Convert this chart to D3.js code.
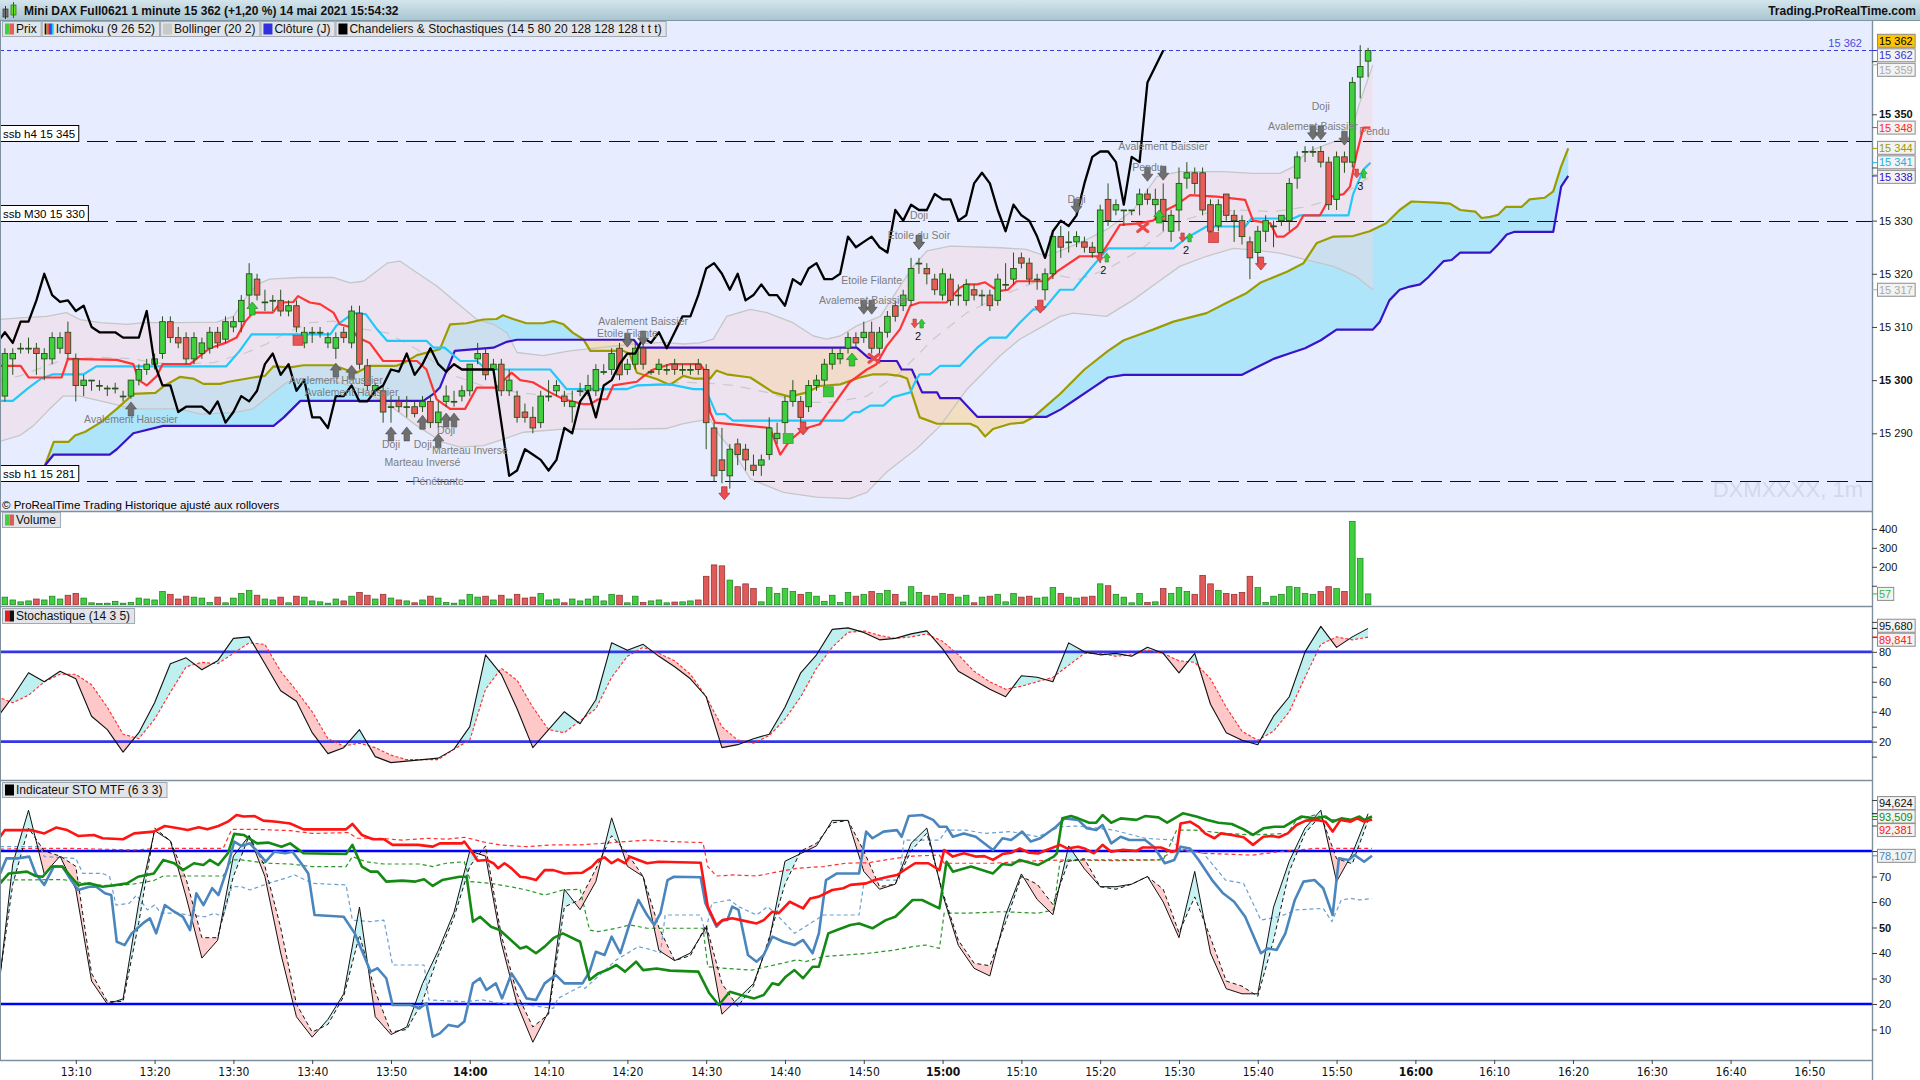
<!DOCTYPE html>
<html>
<head>
<meta charset="utf-8">
<title>Mini DAX Full0621 1 minute</title>
<script src="https://cdn.jsdelivr.net/npm/d3@7"></script>
<style>
  body { margin: 0; background: #ffffff; overflow: hidden; }
  svg text { font-family: "Liberation Sans", Arial, sans-serif; }
  .narrow text { font-family: "Liberation Sans Narrow", "DejaVu Sans Condensed", sans-serif; }
</style>
</head>
<body>
<script>
(function(){

  //pseudo-global data: one candle per minute, first one at 13:01 (minutes after 13:00)
  var firstCandle = 1;
  var candleOpen = [15297,15304,15306,15306,15306,15304,15304,15306,15309,15304, 15299,15300,15299,15298.5,15298.5,15297,15297,15300,15302,15303,
    15305,15311,15308,15308,15304,15305,15306,15309,15307.7,15310, 15311,15316,15319,15314.7,15315,15315,15313,15314,15307,15309,
    15309,15307,15306,15309,15307,15312.6,15302.7,15298,15298,15295, 15296,15295,15295,15295,15296,15292,15296,15296,15297,15298,
    15304,15305,15302,15303,15298,15297,15294,15293,15292,15297, 15298,15297,15295,15298,15298,15298,15301.6,15302,15306,15302,
    15303,15306,15301.6,15302,15302,15303,15302,15302,15303,15302, 15291,15285,15282,15288,15287,15284,15284,15286,15289,15292,
    15296,15296,15295,15299,15300,15303,15304,15306,15308,15308, 15309,15306,15309,15314,15314,15315,15322,15321,15319,15316,
    15319,15316,15315,15317,15316,15316,15315,15318,15319,15323, 15322,15319,15317,15320,15327,15326,15326,15326,15325,15324,
    15334,15332,15332,15332,15333,15335,15333,15334,15328,15332, 15338,15339,15339,15333,15329,15335,15331,15330,15326,15324,
    15328,15329,15330,15330,15338,15343,15343,15343,15341,15334, 15342,15341,15357,15360];
  var candleHigh = [15306,15306,15307,15308,15307,15306,15309,15309,15311,15305, 15301,15300,15300,15299,15299.5,15298,15300,15303,15304,15305,
    15312,15312,15310,15309,15309,15308,15310,15310,15312,15312, 15316,15322,15320,15317,15316,15317,15315,15315,15310,15310,
    15310,15309,15309,15310,15314,15314,15304,15299.5,15299,15297, 15297,15297,15296,15297,15297,15296,15299,15298,15299,15303,
    15307,15306,15304,15304,15302,15298,15295.6,15295,15298,15300, 15300,15298,15298,15299.5,15301,15303,15303,15306,15307,15304,
    15307,15307,15302,15304,15303,15304,15303,15303,15304,15303, 15292,15291,15288,15289,15288,15286,15286,15293,15292,15297,
    15300,15297,15300,15301,15304,15306,15306,15309,15309,15311, 15311,15310,15313,15315,15317,15323,15323,15322,15320,15321,
    15320,15318,15319,15318,15317,15317,15320,15322,15324,15324, 15323,15320,15321,15328,15329,15328,15328,15327,15326,15333,
    15337,15334,15332,15332,15336,15336,15336,15337,15332,15340, 15341,15340,15340,15334,15334,15335,15332,15331,15327,15329,
    15331,15330,15331,15338,15343,15344,15344,15344,15342,15343, 15343,15357,15363,15362.5];
  var candleLow = [15296,15301,15305,15305,15301,15300,15303,15305,15304,15296, 15297,15298,15298,15297,15297.5,15296,15296.5,15299,15301,15302,
    15304,15307,15306,15303,15303,15304,15305,15306,15307,15309, 15309,15314,15315,15313,15313,15312,15312,15309,15306,15307,
    15308,15306,15304,15307,15306,15302,15298,15297,15292,15292, 15294,15293,15293,15294,15291,15291,15295,15295,15296,15297,
    15303,15300,15301,15297,15297,15292,15292,15290,15291,15296, 15297,15295,15292,15297,15297,15297,15301,15301,15300,15301,
    15302,15302,15301,15301,15301,15301,15301,15301,15301,15287, 15281,15280.6,15279.6,15284,15283,15282,15282,15285,15288,15290,
    15295,15292,15294,15298,15299,15302,15303,15305,15306,15307, 15305,15305,15308,15311,15313,15314,15320,15318,15316,15315,
    15314,15314,15314,15315,15314,15313,15314,15317,15318,15321, 15318,15317,15315,15319,15323,15324,15325,15324,15323,15322,
    15329,15331,15329,15331,15331,15333,15330,15328,15326,15328, 15336,15335,15331,15326,15328,15330,15326,15325.5,15319,15322,
    15326,15325,15329,15328,15336,15341,15342,15340,15332,15332, 15339,15340,15353,15357];
  var candleClose = [15305,15305,15306,15306,15305,15305,15308,15308,15305,15299, 15300,15300,15299,15298.5,15298.5,15297,15300,15302,15303,15304,
    15311,15308,15307,15304,15308,15307,15309,15307,15311,15311, 15315,15320,15316,15314.7,15315,15313,15314,15310,15309,15309,
    15309,15308,15308,15308,15313,15303,15299,15299,15294,15295, 15295,15295,15293.7,15296,15292,15294,15297,15296,15298,15303,
    15305,15301,15303,15298,15300,15293,15293,15291,15297,15297, 15299,15296,15296,15298,15299,15302,15301.6,15305,15301,15303,
    15306,15303,15301.6,15303,15302,15302,15302,15302,15302,15292, 15282,15283,15287,15286,15285,15283,15285,15291,15290,15296,
    15298,15293,15299,15300,15303,15305,15305,15308,15307,15309, 15306,15309,15312,15312,15316,15321,15322,15320,15317,15320,
    15315,15316,15318,15316,15316,15314,15319,15318,15321,15322, 15319,15319,15320,15327,15325,15326,15327,15325,15324,15332,
    15330,15333,15332,15332,15335,15334,15334,15330,15331,15337, 15339,15337,15332,15328,15333,15331,15330,15327,15323,15328,
    15330,15329,15331,15337,15342,15343,15343,15341,15333,15342, 15341,15356,15359,15362];
  var candleVolume = [40,25,15,20,30,25,45,30,50,60, 35,10,6,8,18,8,12,35,30,25, 70,55,30,45,40,35,12,40,10,35,
    60,75,50,30,25,40,10,45,40,20, 15,8,30,20,45,65,50,30,55,35, 25,20,10,25,45,35,12,8,25,55,
    40,45,25,50,30,55,35,40,60,25, 30,10,30,20,30,45,20,55,50,10, 45,12,20,25,10,14,15,20,25,150,
    210,205,130,95,110,85,15,90,60,85, 70,55,65,45,18,50,12,65,45,55, 70,60,75,55,14,95,65,50,45,60,
    55,40,50,10,40,45,55,15,60,40, 45,35,40,90,60,40,35,40,45,110, 100,55,40,10,60,12,15,85,60,90,
    70,55,155,110,75,60,55,65,150,90, 12,45,55,95,90,60,55,70,95,85, 70,440,245,57];

  //ichimoku (9 26 52) lines as [minute, price]
  var tenkan = [[0,15302.7],[3,15302.7],[4,15300.5],[8.2,15300.5],[9,15304],[15.2,15303.8],[17.3,15303],[18,15300],[19,15299],[20.3,15300.8],
    [21,15303],[24.5,15303],[25.8,15304.6],[27,15306],[29,15307],[30.4,15308],[31.5,15311],[32.5,15312.7],[35,15312.7],[36,15314.6],
    [37.6,15314.7],[38.2,15315.8],[39.7,15314.6],[41,15314.3],[42.7,15312.7],[43.5,15310.5],[44.8,15310],[45.8,15308],[47.3,15307],[49,15303.6],
    [53.3,15303.6],[54.5,15302],[55.8,15296.4],[57.5,15294.6],[59.4,15294.6],[60.9,15298.6],[63.4,15298.6],[65.3,15301.4],[66.4,15300],[68,15299.6],
    [70.2,15297.7],[71.9,15296.4],[74.4,15295.5],[75.3,15295.5],[76.3,15296.4],[77.4,15296.4],[78.2,15299],[81.2,15299.7],[82.1,15300.8],[83.3,15302],
    [85.4,15303],[89.2,15303],[89.7,15302],[90.5,15294],[91.1,15292],[98.1,15291],[99.4,15286],[100.6,15288.6],[102.3,15290.8],[104.4,15291.7],
    [106,15295],[108.2,15299.6],[110.4,15302],[111.6,15303],[112.9,15306.4],[114.6,15309.6],[115.9,15314],[117.1,15314.6],[120.5,15314.6],[122.2,15317.4],
    [123,15318],[124.4,15318],[125.4,15318.4],[126.4,15317.4],[127.3,15316.8],[128.3,15317],[129.4,15318.6],[133.2,15318.6],[134.5,15320.4],[137.4,15323.3],
    [140,15323.3],[142.5,15329.2],[145,15329.5],[146.7,15330],[148.4,15332],[149.7,15333],[151.4,15334.8],[154.8,15334.5],[158.4,15333.9],[159.4,15330],
    [161.6,15329.5],[162.4,15327],[163.3,15327],[165,15328.9],[165.8,15331],[167.9,15331],[169.2,15334.5],[170.9,15335],[171.7,15336.4],[172.5,15342.3],
    [173.4,15347.5],[174.3,15347.5]];
  var kijun = [[0,15296.1],[2,15296.1],[3.8,15298.3],[5.5,15300.2],[7.1,15301.1],[11,15301.1],[12.6,15302.6],[29.1,15302.6],[30.8,15305.5],[32.3,15308.6],
    [42.3,15308.6],[43.1,15310.3],[45.2,15312.6],[46.8,15312.4],[48.2,15309.6],[49.5,15307.4],[54.5,15307.4],[55.4,15306.1],[56.8,15306.1],[58.8,15303.6],
    [60.9,15303.6],[62.1,15302],[70.2,15302],[72.3,15298.3],[79.9,15298.3],[81.2,15299],[85.4,15299.2],[88.4,15298.3],[89.5,15298.3],[90.1,15297.7],
    [91.3,15293.6],[92.4,15293.6],[93.4,15292.4],[107.4,15292.4],[108.7,15294],[109.5,15294],[110.8,15295.2],[112.5,15295.2],[113.7,15296.8],[115.9,15297.7],
    [116.7,15300.2],[117.1,15301.1],[118.4,15301.1],[119.7,15302.7],[122.2,15302.7],[124.4,15306.1],[126,15308],[128.1,15308],[129.8,15310.8],[131.5,15313.3],
    [132.8,15313.3],[134.9,15317],[136.6,15317],[138.7,15320.8],[141,15324.8],[149.3,15324.8],[150.9,15326.7],[153.5,15328.9],[158.4,15328.9],[159.2,15330.4],
    [164.5,15330.4],[165.4,15331],[171.5,15331],[172.1,15335],[173.4,15339.6],[174.3,15340.9]];
  var senkouA = [[6.1,15284],[7.2,15288.4],[9.1,15288.4],[9.9,15289.6],[11.2,15290.3],[13.1,15292],[15.2,15294.6],[17.3,15297.4],[20.1,15297.6],[21.3,15299],
    [23.2,15300.6],[24.9,15300.3],[26.2,15299.3],[28.3,15299.3],[29.4,15299.7],[32.5,15300.5],[34,15300.8],[35.1,15302.6],[37.2,15302.4],[38.9,15302.8],
    [42.7,15302.8],[44.4,15301.9],[45.5,15301.3],[47.3,15302.7],[50.7,15302.7],[51.6,15303.2],[53.3,15304.7],[56.2,15305.8],[57.5,15310.5],[59.6,15310.7],
    [61.7,15311.4],[63.4,15311.5],[64.2,15312.2],[65.5,15311.5],[67.2,15310.7],[69.3,15310.7],[70.6,15311.1],[71.9,15310.5],[73.1,15308.9],[74.4,15307.7],
    [75.3,15305.5],[79.5,15305.5],[80.3,15304.9],[81.2,15301.4],[83.7,15300.2],[85.4,15299.1],[87.1,15300.8],[88.4,15300.3],[90.5,15300.3],[91.3,15301.8],
    [92.6,15301.1],[95.6,15300.5],[98.5,15297.7],[100.6,15296.9],[102.8,15297.7],[104.4,15298.9],[107,15299.2],[109.5,15300.5],[111.2,15301.1],[113,15301.1],
    [114.6,15300.8],[115.5,15300.3],[117.1,15293],[119.3,15291.8],[123.5,15291.8],[124.4,15291.2],[125.4,15289.4],[126.4,15290.8],[128.6,15291.8],[130.2,15292],
    [131.5,15293],[133.2,15295.2],[134.9,15297.4],[138,15302],[141,15305.5],[143,15307.5],[145,15308.6],[146.7,15309.5],[149.3,15311],[153.5,15312.6],
    [156,15314.5],[158.6,15316.4],[160.3,15318.3],[163.7,15320.4],[165.8,15322],[167.5,15325.8],[169.6,15327],[172.1,15327.1],[174.2,15328],[176.3,15329.5],
    [178,15332],[179.5,15333.6],[182.7,15333.4],[184.4,15333.2],[185.7,15332],[187.6,15331.7],[188.4,15330.5],[189.5,15330.7],[190.5,15331.1],[191.5,15332.6],
    [193.5,15332.6],[194.5,15334],[196.4,15334.3],[197.5,15335.5],[198.5,15340.2],[199.4,15343.6]];
  var senkouB = [[6.1,15284],[7.2,15286],[14.3,15286],[15.2,15287],[17.3,15290],[21.1,15291.4],[35.1,15291.4],[36.4,15293],[38.5,15296.1],[54.1,15296.1],
    [55.4,15297.4],[56.2,15298.6],[58.1,15305.5],[58.8,15305.6],[63,15306.1],[64.7,15307.2],[66,15307.6],[80.8,15307.6],[81.6,15306.1],[109.1,15306.1],
    [110.6,15304.2],[112.1,15303.6],[114.2,15303.6],[114.8,15302],[116.1,15302],[117.4,15297.7],[119.3,15297.7],[119.7,15296.6],[122.2,15296.6],[124.4,15293.1],
    [133.2,15293.1],[135,15294.5],[137,15296.5],[139,15298.5],[141,15300.5],[143,15301],[158,15301],[160,15302.5],[162,15304],[164,15305],
    [166,15306],[168,15307.5],[170,15309.5],[174.6,15309.5],[175.5,15311],[176.7,15315],[178,15317],[179.3,15317.6],[180.6,15318],[181.6,15319.3],
    [183.6,15322.4],[184.6,15322.6],[185.7,15324],[189.5,15324],[190.5,15325.5],[191.6,15327.4],[192.6,15327.9],[197.5,15327.9],[198.5,15336.4],[199.4,15338.4]];

  //bollinger (20 2) bands as [minute, price]
  var bbUpper = [[0,15311.4],[2.9,15311.7],[6.3,15312],[8.8,15312.7],[10.5,15311.4],[13.1,15310.8],[16.5,15310.5],[18.6,15310.8],[23.2,15310.8],[27.9,15310.9],
    [30,15312],[31.7,15315.8],[33,15318],[34.6,15319],[38.4,15319.3],[42.7,15319.3],[44.8,15318.3],[46.5,15318.6],[49.5,15322],[51.1,15322.4],
    [53.3,15320.2],[55.8,15317.7],[58.3,15314.6],[60.9,15311.4],[63,15310.5],[64.7,15308.9],[66,15305.2],[69.3,15304.6],[72.7,15305.5],[76.5,15306.1],
    [80.8,15306.8],[84.5,15307.1],[87.1,15306.8],[89.2,15307],[90.9,15307.7],[92.6,15312],[95.6,15313.3],[97.7,15312.7],[101,15310.8],[103.6,15308.3],
    [105.3,15307.7],[107,15308.3],[109.1,15310.2],[112.1,15312],[114.6,15317.7],[116.3,15321.4],[118,15324.3],[121,15325.2],[127.3,15324.9],[130.6,15324.6],
    [133.2,15323.3],[134.9,15324.3],[137.4,15325.8],[140.8,15328.3],[144.2,15332],[147.2,15338.3],[150.1,15339.2],[155.6,15339.2],[159.4,15338.9],[162.8,15338.9],
    [164.5,15340.1],[166.2,15342.9],[169.6,15344.8],[171.7,15345.8],[172.9,15352],[174.6,15359.3]];
  var bbMiddle = [[0,15299.9],[2.9,15300.8],[6.3,15302.7],[8.8,15304],[13.1,15304.3],[17.3,15304],[19.8,15303.3],[23.2,15303],[27.5,15303.3],[31.7,15305.2],
    [34.2,15306.8],[36.3,15308.6],[39.7,15310.8],[42.7,15311.1],[45.2,15309.9],[49.5,15308.9],[53.3,15305.8],[57.5,15301.1],[61.7,15298.9],[66,15297.7],
    [70.2,15297],[74.4,15297.7],[78.6,15298.3],[82.9,15299.2],[87.1,15299.6],[90.5,15299.4],[93.5,15299],[97.7,15297.7],[101.9,15295.8],[106.1,15295.8],
    [110.4,15297],[114.6,15301.4],[118.8,15307.7],[123.1,15312.7],[127.3,15315.8],[131.5,15318.3],[134.9,15319.6],[137.4,15319],[140.8,15320.8],[145.1,15324.5],
    [149.3,15329.5],[153.5,15331.4],[157.6,15332],[162,15331.7],[166.2,15332.6],[170.4,15334.5],[174.6,15338.6]];
  var bbLower = [[0,15288.3],[2.9,15289.6],[4.6,15291.4],[6.7,15294.6],[8.4,15297],[10.5,15297],[13.9,15295.8],[17.3,15294.6],[23.2,15294.6],[25.8,15293.6],
    [30,15293.9],[32.5,15294.6],[35.1,15297.7],[36.8,15299.6],[38.5,15300.2],[42.7,15299.9],[46.1,15298.3],[49.9,15295.2],[53.3,15291.4],[56.6,15288.3],
    [58.8,15287.4],[61.7,15287.7],[64.3,15288.9],[66.8,15290.2],[71.9,15290.8],[79.9,15290.8],[84.9,15290.9],[87.1,15291.8],[90.5,15292.7],[91.5,15290],
    [93.5,15286.4],[95.6,15281.4],[99.8,15278.9],[104,15278],[108.2,15277.7],[110.4,15278.9],[112.9,15282.7],[116.7,15287.1],[119.7,15291.4],[123.1,15298.3],
    [127.3,15304.6],[129.8,15307.7],[132.8,15310.2],[134.9,15312],[136.6,15312.6],[140.8,15312],[144.2,15315.1],[147.2,15318.3],[150.1,15321.4],[153.5,15323.3],
    [156.9,15324.8],[159.4,15324.5],[162.8,15323.9],[166.2,15322.6],[169.6,15321.4],[172.5,15319.5],[174.6,15317]];

  //support levels drawn as dashed lines
  var levelNames = ["ssb h4 15 345", "ssb M30 15 330", "ssb h1 15 281"];
  var levelValues = [15345, 15330, 15281];

  //stochastic (14 3 5), one reading every 2 minutes from 13:00
  var oscStep = 2;
  var stochK = [36,50,66,60,67,62,37,28,13,26, 46,72,76,68,74,89,90,72,54,47, 26,12,16,28,10,6,7,8,9,15,
    30,78,65,42,16,28,40,32,48,86, 81,85,77,70,62,50,16,18,22,25, 43,66,78,95,96,93,88,89,92,94,
    82,67,61,55,50,64,63,60,86,80, 78,79,77,83,79,66,79,45,26,21, 18,37,50,80,97,83,90,95.68];
  var stochD = [50,46,51,60,65,65,58,43,25,22, 35,53,70,73,72,79,86,85,67,54, 40,22,17,19,16,11,8,8,8,15,
    21,55,69,61,43,28,26,34,42,63, 77,83,79,74,65,50,30,21,19,24, 35,50,69,83,93,94,91,89,90,92,
    87,78,67,60,55,57,60,63,71,79, 79,77,78,81,79,74,73,62,43,27, 21,27,40,63,85,90,88,89.841];

  //STO MTF (6 3 3): fast lines on the same 2 minute grid
  var mtfK = [20,75,96,71,78,65,29,20,22,60, 88,84,62,38,45,78,86,70,40,15, 7,14,24,58,15,8,11,28,41,56,
    80,78,44,20,5,17,65,57,68,93, 74,70,41,37,40,50,16,22,28,45, 76,79,82,92,92,72,65,67,83,89,
    63,43,34,31,55,71,61,55,82,73, 66,66,67,70,60,46,72,40,26,24, 24,58,76,89,96,68,79,94.624];
  var mtfD = [23,67,89,80,78,74,32,21,21,52, 89,84,69,46,46,70,86,74,50,20, 9,12,23,47,25,9,10,21,39,54,
    74,82,47,24,11,16,58,61,73,86, 79,70,50,37,39,51,28,19,27,46, 67,80,83,91,92,80,66,67,80,87,
    64,45,36,35,52,70,67,59,76,77, 66,65,67,70,65,48,62,46,29,27, 23,45,72,87,94,77,75,92];

  //STO MTF higher time frames as [minute, value]
  var mtfRed = [[0.4,85.6],[1,88.2],[4.3,88.2],[6,86.9],[7.5,89.2],[8.9,88.2],[10.3,85.9],[12.3,86.3],[13.4,85],[16,84.6],
    [17.4,86.9],[19.9,87.6],[21.3,89.8],[23,88.9],[24.2,88.2],[25.6,89.3],[26.7,88.5],[28.1,89.8],[29.3,91.5],[30.4,94.1],
    [31.3,93.5],[32.7,93.7],[33.8,91.9],[35.5,91.5],[37.2,90.8],[38.9,88.5],[44.3,88.5],[45.1,90.6],[46.3,86.3],[47.7,84.6],
    [49.1,84.6],[50.2,82.4],[53.4,82.4],[55.3,81.7],[56.2,83],[59,83],[59.3,83.7],[60.1,80.4],[61,76.2],[62.1,76.5],
    [63,75.2],[63.6,73.2],[64.4,75.2],[65.3,73.2],[66.4,69.9],[67.2,69.6],[68.4,68.6],[69.5,72.5],[70.6,72.5],[72,71.2],
    [74.3,71.5],[75.5,73.9],[76.3,76.5],[77.1,77.5],[78,75.2],[78.8,76.7],[79.7,75.2],[80.3,77.8],[81.4,76.5],[82.5,75.2],
    [84,75.8],[89.3,75.4],[90.2,58.2],[91.3,51],[92.1,52.9],[93.3,53.6],[94.7,52.7],[96.4,51.6],[97.3,52.9],[98.4,56.2],
    [99.2,55.6],[100.6,60.1],[102.3,57.5],[103.2,61.4],[104.3,62.1],[106,64.7],[107.4,65.4],[108.3,66.7],[110.3,67.3],[111.4,68.6],
    [113.1,69.9],[114.2,70.6],[116.5,75.2],[118.2,75.2],[119.6,72.5],[120.2,80.4],[121.3,77.8],[122.7,79.1],[124.2,77.8],[125.3,78],
    [126.4,76.5],[127.6,78.8],[128.7,79.3],[129.8,81],[131,79.3],[132.1,79],[133.2,80.4],[134.9,82.4],[135.8,81],[137.2,81.7],
    [138,81],[139.2,79.1],[140.3,82.4],[141.4,79.7],[142.9,80.5],[144.6,80],[145.4,81.4],[147.7,81.4],[149.1,79.7],[149.7,80.1],
    [150.2,90.8],[151.4,91.5],[152.5,89.5],[153.3,86.9],[154.5,85],[155.3,86.9],[156.7,86.3],[158.2,85.4],[159.4,82.4],[160.7,85.6],
    [161.8,85.9],[162.7,85.4],[163.8,86.9],[164.9,90.2],[166.1,91.9],[167.5,92.2],[168.6,91.5],[169.5,87.6],[170.5,92.2],[171.8,91.5],
    [172.6,92.8],[173.5,91.5],[174.5,92.381]];
  var mtfRedSlow = [[0.4,80.7],[3.8,81],[9.7,81],[17.4,80.4],[20.2,81],[28.7,81],[29.8,88.5],[32.7,88.5],[37.2,88],[40,86.9],
    [44.6,87.2],[45.7,85],[48.5,85],[51.4,84.3],[54.8,85],[57,84.6],[59.3,85.4],[62.1,83.3],[63.8,82.4],[67.2,81.7],
    [70.6,82.4],[74,82.4],[76.9,83],[79.7,83.7],[82.5,84.3],[85.4,83.7],[89.6,83.3],[90.2,73.9],[91.3,70.2],[93.6,70.6],
    [96.4,70.2],[99.2,71.9],[101.5,73.2],[104.9,73.9],[107.7,75.2],[110.6,75.4],[114,77.1],[116.2,78],[119.6,78.4],[120.2,75.2],
    [126.4,75.2],[132.1,76.2],[136,76.5],[141.7,76.2],[147.4,76.5],[149.9,81],[153.1,79.1],[159.3,78.4],[162.7,79.7],[167.2,81],[174.5,81]];
  var mtfGreen = [[0.4,67.3],[1.5,71.2],[3.8,71.9],[4.9,70.2],[5.8,69.9],[6.9,73.9],[8.3,73.9],[9.4,69.9],[10.3,66.7],[11.7,67.3],
    [13.4,66],[15.1,66.7],[16.5,67.3],[17.9,69.9],[19.9,71.2],[21.1,76.5],[22.5,75.2],[23.6,72.5],[25,75.2],[26.2,74.5],
    [27,76.5],[28.1,74.5],[29.3,79.1],[30.1,86.7],[31.3,86.3],[33,83],[34.4,83.3],[36.1,81.7],[37.2,83],[38.9,79.1],
    [44.3,78.8],[45.1,82.4],[46.3,73.9],[47.4,71.9],[48.3,71.9],[49.4,68],[51.4,68.4],[53.1,68],[54.2,68.9],[55.3,66.3],
    [56.5,68.6],[58.7,69.9],[59.6,69.9],[60.4,52.3],[61.3,54.2],[62.7,50.3],[63.8,49],[66.4,41.8],[67.2,42.5],[68.4,39.9],
    [69.5,42.5],[70.6,45.8],[71.8,47.7],[74,44.4],[75.2,29.4],[76.3,32],[77.4,33.3],[78.6,35.3],[79.7,32.7],[81.1,36.6],
    [82,33.3],[83.7,33.9],[85.4,33.1],[89,32.7],[90.4,24.2],[91.6,19.6],[93,24.8],[94.4,23.5],[96.1,22.2],[97.3,23.5],
    [98.4,28.1],[99.2,27.5],[100.1,30.7],[101.2,33.3],[102.3,30.1],[103.5,34.6],[104.3,34.6],[105.5,47.7],[106.6,49],[108.3,51],
    [109.4,51.6],[111.1,49.7],[112.8,52.9],[114,54.2],[115.1,57.5],[116.2,60.8],[117.4,60.8],[119.6,57.5],[120.5,75.8],[121.3,71.9],
    [123.6,73.9],[126.4,71.2],[127.6,74.9],[128.7,74.5],[129.8,76.5],[132.1,74.5],[134.1,77.8],[134.5,79.1],[135.2,92.8],[136.3,93.7],
    [137.2,92.8],[138.6,91.1],[139.5,91.1],[140.3,94.1],[141.4,91.1],[142.6,92.8],[144.6,92.2],[145.7,93.7],[147.4,93.2],[148.5,91.1],
    [150.5,94.8],[152.2,93.5],[153.6,92.2],[155,91.1],[156.7,90.6],[158.2,88.5],[159.4,86.3],[160.7,88.9],[162.1,89.5],[163.3,89.5],
    [164.4,91.5],[165.5,93.5],[167.2,92.8],[168.6,93.5],[169.5,91.5],[170.6,92.8],[171.8,92.2],[172.9,93.5],[173.5,92.2],[174.5,93.509]];
  var mtfGreenSlow = [[0.4,68.6],[8.3,68.8],[10,68],[12.3,66.7],[15.1,66.3],[17.4,67.1],[19.9,68.4],[21.1,70.2],[28.7,70.2],[29.8,76.5],
    [31,76.5],[34.4,75.2],[37.2,74.9],[40,73.9],[44.3,73.9],[45.1,77.8],[46.8,75.8],[49.1,74.9],[53.6,74.9],[55.3,73.9],
    [57,75.2],[59.3,75.8],[60.1,68],[62.7,67.3],[65.5,65.8],[67.2,64.7],[69.5,62.7],[71.8,64.7],[74,65],[75.2,49],
    [76.3,48.4],[78.6,49.7],[80.3,51],[82.5,49.7],[89.6,49.7],[90.2,34.6],[92.4,34],[95.8,33.3],[101.5,37.3],[102.6,36.6],
    [104.9,38.6],[107.7,39.2],[110.6,39.9],[114,41.2],[116.2,42.5],[117.9,43.1],[119.6,41.8],[120.2,55.6],[123,55.6],[127.6,56.2],
    [132.1,55.6],[134.1,56.9],[134.9,75.8],[137.8,76.5],[148,76.5],[149.7,88.2],[151.9,88.2],[155.9,86.9],[159.3,86.3],[163.8,86.9],
    [164.9,92.2],[167.2,94.1],[169.5,92.2],[174.5,92.8]];
  var mtfBlue = [[0.4,71.2],[1.2,77.1],[2.6,77.1],[4.1,77.8],[4.9,71.2],[6,66.7],[7.2,73.9],[8.3,73.9],[9.4,68.6],[10.3,64.7],
    [11.7,66],[12.6,66],[13.7,63.4],[14.5,62.7],[15.2,44.4],[16.2,43.1],[17.1,47.7],[18.5,51.6],[19.4,53.6],[20.2,47.7],
    [21.3,58.8],[22.5,56.2],[23.6,54.2],[24.5,49],[25.3,63.4],[26.2,58.8],[27.3,65.4],[28.1,62.7],[29.3,73.9],[30.1,83.7],
    [31,82],[32.1,83],[33.2,79.1],[34.1,75.8],[35.2,79.7],[36.6,79.1],[37.5,79.7],[38.6,75.2],[39.5,71.2],[40.3,54.9],
    [44,54.2],[45.4,47.7],[47.4,32.7],[48.3,34],[49.4,30.1],[50.2,19.6],[52.5,19.6],[53.6,18.3],[54.5,20.3],[55.3,7.2],
    [56.2,8.5],[57.3,11.8],[58.5,11.1],[59.3,13.1],[60.4,28.1],[61.3,30.1],[62.1,25.5],[63.3,28.1],[64.1,22.2],[65.3,32],
    [66.4,26.8],[67.2,22.2],[68.4,21.6],[69.5,28.1],[70.9,31.4],[72,28.1],[74.3,28.1],[75.2,32.7],[76,40.5],[77.1,39.2],
    [78,46.4],[79.1,39.9],[80.3,51.6],[81.4,60.8],[82.5,54.9],[83.4,51],[84.2,55.6],[85.1,68.6],[85.9,69.9],[89.3,69.7],
    [89.9,59.5],[91.3,50.3],[92.1,52.9],[92.7,53],[93.3,58.2],[94.1,56.9],[95.3,39.2],[96.4,36.6],[97.3,39.2],[98.4,46.4],
    [99.8,44.4],[101.2,43.1],[102.3,45.1],[103.5,39.9],[104.3,47.7],[105.2,68.6],[106.6,71.2],[109.4,71.2],[110.3,87.6],[111.1,85],
    [112.5,87.6],[114.2,88.2],[114.8,85.6],[115.7,93.7],[117.4,94.1],[118.8,92.2],[119.6,89.5],[120.5,89.5],[121.3,85.6],[122.7,86.9],
    [124.2,85.6],[126.4,80.4],[127.6,85],[128.7,84.3],[130.1,87.6],[131.2,83.7],[132.4,85],[134.4,89.5],[135.5,92.8],[137.2,92.2],
    [138.3,88.9],[139.5,88.2],[140.3,90.2],[141.4,83],[142.6,85.6],[143.7,84.3],[145.7,84.3],[146.8,81.7],[148.2,75.2],[149.4,76.5],
    [150.2,81.7],[151.4,81],[152.5,76.5],[154.2,68.6],[155.6,63.4],[157,60.1],[158.4,54.2],[160.4,39.9],[161.3,41.8],[162.4,41.2],
    [163.5,47.7],[164.7,60.8],[165.8,68],[167.2,68.6],[168.3,65.4],[169.5,54.9],[170.3,77.1],[171.5,76.5],[172.3,78.4],[173.5,75.8],[174.5,78.107]];
  var mtfBlueSlow = [[0.4,81.7],[5.5,81.7],[6,77.8],[10,77.1],[10.9,71.2],[13.4,71.2],[14.3,69.9],[15.1,58.8],[16.8,59.5],[17.7,62.7],
    [19.1,56.9],[20,58.8],[20.8,55.6],[23,55.6],[24.2,54.9],[26.4,54.2],[27.6,55.6],[28.7,54.2],[29.8,66],[31,66],
    [32.1,64.7],[34.4,67.3],[36.6,69.3],[37.8,70.6],[40,67.3],[44.3,66.7],[45.1,52.9],[47.4,52.3],[49.1,52.9],[50.2,35.3],
    [54.2,35.3],[54.8,21.6],[59.3,20.9],[61.6,21.6],[63.8,20.3],[67.2,19.6],[70.6,18.3],[71.2,22.2],[74,26.8],[74.6,26.1],
    [78.6,37.3],[81.4,42.5],[83.1,41.2],[84.2,40.1],[84.8,54.9],[89.3,54.9],[89.9,47.7],[90.7,59.5],[93,60.8],[94.1,58.2],
    [96.4,54.9],[97.8,58.2],[99.2,54.2],[101.2,47.7],[102.9,51],[104.9,54.9],[109.4,54.9],[110,67.3],[111.7,68.6],[114.5,68.6],
    [115.1,84.3],[119.6,84.3],[120.5,88.2],[123,88.2],[125.3,86.9],[128.7,87.6],[132.1,85.6],[134.9,89.5],[137.2,89.8],[141.7,88.2],
    [145.7,85],[149.1,84.3],[150.2,80.4],[153.1,79.1],[155.9,68.6],[158.2,67.3],[160.4,52.9],[162.7,54.2],[164.9,56.9],[168.3,57.5],
    [169.4,52.3],[170.6,60.8],[171.8,61.4],[172.9,60.8],[174.5,61.4]];

  //candlestick pattern labels (arrow tip at minute / price)
  var patternLabels = ["Avalement Haussier","Avalement Haussier","Avalement Haussier","Doji","Doji","Marteau Inversé","Pénétrante","Doji","Marteau Inversé",
    "Etoile Filante","Avalement Baissier","Avalement Baissier","Etoile Filante","Etoile du Soir","Doji","Doji","Pendu","Avalement Baissier",
    "Avalement Baissier","Doji","Pendu"];
  var patternMinutes = [17,43,45,50,52,54,56,57,58,80,82,110,111,117,117,137,146,148,167,168,171];
  var patternPrices = [15295.9,15303.2,15302.8,15291.2,15291.2,15293.4,15289.9,15293.8,15293.8,15306.2,15306.6,15312.4,15312.4,15324.6,15324.6,
    15331.4,15337.4,15337.6,15345.2,15345.2,15344.2];
  var patternBullish = [true,true,true,true,true,true,true,true,true,false,false,false,false,false,false,false,false,false,false,false,false];

  //stochastic signals drawn on the price chart
  var signalKinds = ["up","square","down","gsquare","down","gsquare","up","cross","pair","down","pair","cross","up","pair","square","down","pair"];
  var signalMinutes = [32.4,38.2,92.3,100.4,102.3,105.5,108.5,111.3,116.9,132.4,140.4,145.4,147.5,150.9,154.4,160.4,173];
  var signalPrices = [15314.7,15307.5,15277.5,15289,15289.7,15297.8,15305.1,15304.1,15309.8,15312.6,15322.2,15328.7,15332,15326,15326.8,15320.7,15338];
  var signalCounts = ["","","","","","","","","2","","2","","","2","","","3"];

  //axis ticks
  var timeLabels = ["13:10","13:20","13:30","13:40","13:50","14:00","14:10","14:20","14:30","14:40","14:50","15:00",
    "15:10","15:20","15:30","15:40","15:50","16:00","16:10","16:20","16:30","16:40","16:50"];
  var priceTicks = [15290,15300,15310,15320,15330,15340,15350,15360];
  var volumeTicks = [100,200,300,400];
  var stochTicks = [10,20,30,40,50,60,70,80,90,100];
  var mtfTicks = [10,20,30,40,50,60,70,80,90,100];

  setChart();

  function setChart(){
    var W = 1920, H = 1080, axisX = 1872;
    var panel = { main: [21, 511], vol: [511, 606], sto: [606, 780], mtf: [780, 1060] };

    //scales
    var x = d3.scaleLinear().domain([0, 238]).range([-3, 1872.4]);
    var yP = d3.scaleLinear().domain([15290, 15350]).range([433.3, 114.3]);
    var yV = d3.scaleLinear().domain([0, 400]).range([604.7, 528.9]);
    var yS = d3.scaleLinear().domain([0, 100]).range([771.6, 621.9]);
    var yM = d3.scaleLinear().domain([0, 100]).range([1055, 800]);

    var fr = d3.formatLocale({ decimal: ",", thousands: " ", grouping: [3], currency: ["", ""] });
    var fmtPrice = fr.format(",.0f");
    var fmtOsc = fr.format(".3f");

    var svg = d3.select("body").append("svg")
      .attr("width", W).attr("height", H)
      .style("display", "block");
    var defs = svg.append("defs");

    svg.append("rect").attr("width", W).attr("height", H).attr("fill", "#ffffff");

    //panel clips
    Object.keys(panel).forEach(function(k){
      defs.append("clipPath").attr("id", "clip-" + k)
        .append("rect").attr("x", 0).attr("y", panel[k][0])
        .attr("width", axisX).attr("height", panel[k][1] - panel[k][0]);
    });

    //main background
    svg.append("rect").attr("x", 0).attr("y", panel.main[0])
      .attr("width", axisX).attr("height", panel.main[1] - panel.main[0])
      .attr("fill", "#e7edfe");

    var candles = candleOpen.map(function(o, i){
      return { m: firstCandle + i, o: o, h: candleHigh[i], l: candleLow[i], c: candleClose[i], v: candleVolume[i] };
    });
    var grid = function(vals){ return vals.map(function(v, i){ return [i * oscStep, v]; }); };
    var pts = function(series, ys){ return series.map(function(d){ return [x(d[0]), ys(d[1])]; }); };
    var lineOf = function(ys){ return d3.line().x(function(d){ return x(d[0]); }).y(function(d){ return ys(d[1]); }); };

    //fill between two series, one colour where a is above b, another where it is below
    function splitFill(g, a, b, ys, top, bottom, colUp, colDown, id){
      var pa = pts(a, ys), pb = pts(b, ys);
      var poly = "M" + pa.concat(pb.slice().reverse()).join("L") + "Z";
      var first = pb[0], last = pb[pb.length - 1];
      var edgeL = [[-50, first[1]]], edgeR = [[2000, last[1]]];
      var upClip = "M" + [[-50, top]].concat(edgeL, pb, edgeR, [[2000, top]]).join("L") + "Z";
      var dnClip = "M" + [[-50, bottom]].concat(edgeL, pb, edgeR, [[2000, bottom]]).join("L") + "Z";
      defs.append("clipPath").attr("id", id + "-up").append("path").attr("d", upClip);
      defs.append("clipPath").attr("id", id + "-dn").append("path").attr("d", dnClip);
      g.append("g").attr("clip-path", "url(#" + id + "-up)")
        .append("path").attr("d", poly).attr("fill", colUp).attr("stroke", "none");
      g.append("g").attr("clip-path", "url(#" + id + "-dn)")
        .append("path").attr("d", poly).attr("fill", colDown).attr("stroke", "none");
    }

    function drawLine(g, series, ys, color, width, dash){
      var p = g.append("path").datum(series)
        .attr("d", lineOf(ys))
        .attr("fill", "none")
        .attr("stroke", color)
        .attr("stroke-width", width)
        .attr("stroke-linejoin", "round");
      if (dash) p.attr("stroke-dasharray", dash);
      return p;
    }

    function arrowPath(cx, tipY, w, h, up){
      var s = up ? 1 : -1;
      var p = [[cx, tipY], [cx + w / 2, tipY + s * h * 0.5], [cx + w / 4, tipY + s * h * 0.5], [cx + w / 4, tipY + s * h],
        [cx - w / 4, tipY + s * h], [cx - w / 4, tipY + s * h * 0.5], [cx - w / 2, tipY + s * h * 0.5]];
      return "M" + p.join("L") + "Z";
    }

    function boxesHit(a, list){
      return list.some(function(b){
        return a.x < b.x + b.width && b.x < a.x + a.width && a.y < b.y + b.height && b.y < a.y + a.height;
      });
    }

    // ---------------- main price panel ----------------
    var gMain = svg.append("g").attr("clip-path", "url(#clip-main)");

    //ichimoku cloud
    splitFill(gMain, senkouA, senkouB, yP, 0, 600, "#aee5fb", "#f2dfc0", "cloud");

    //bollinger envelope
    var bbPoly = "M" + pts(bbUpper, yP).concat(pts(bbLower, yP).reverse()).join("L") + "Z";
    gMain.append("path").attr("d", bbPoly).attr("fill", "#f6d6de").attr("fill-opacity", 0.42);
    drawLine(gMain, bbUpper, yP, "#c6c6c6", 1.3);
    drawLine(gMain, bbLower, yP, "#c6c6c6", 1.3);
    drawLine(gMain, bbMiddle, yP, "#c9c9c9", 1.2, "10,8");

    //support levels
    gMain.selectAll(".level").data(levelValues).enter().append("line")
      .attr("class", "level")
      .attr("x1", 0).attr("x2", axisX)
      .attr("y1", function(d){ return Math.round(yP(d)) + 0.5; })
      .attr("y2", function(d){ return Math.round(yP(d)) + 0.5; })
      .attr("stroke", "#111").attr("stroke-width", 1.2)
      .attr("stroke-dasharray", "21,8");

    //last close line
    var lastClose = candleClose[candleClose.length - 1];
    gMain.append("line")
      .attr("x1", 0).attr("x2", axisX)
      .attr("y1", yP(lastClose)).attr("y2", yP(lastClose))
      .attr("stroke", "#3c3cdc").attr("stroke-width", 1.1)
      .attr("stroke-dasharray", "4,3");
    gMain.append("text").attr("x", 1862).attr("y", yP(lastClose) - 4)
      .attr("text-anchor", "end").attr("font-size", 11).attr("fill", "#4a4ae0")
      .text(fmtPrice(lastClose));

    //cloud lines, kijun, tenkan
    drawLine(gMain, senkouA, yP, "#9c9c00", 2.2);
    drawLine(gMain, senkouB, yP, "#3a12c8", 2.2);
    drawLine(gMain, kijun, yP, "#22c8fa", 2.2);
    drawLine(gMain, tenkan, yP, "#ff3434", 2.2);

    //candles
    var wickColor = "#28501a";
    gMain.selectAll(".wick").data(candles).enter().append("line")
      .attr("class", "wick")
      .attr("x1", function(d){ return x(d.m); }).attr("x2", function(d){ return x(d.m); })
      .attr("y1", function(d){ return yP(d.h); }).attr("y2", function(d){ return yP(d.l); })
      .attr("stroke", wickColor).attr("stroke-width", 1);
    gMain.selectAll(".body").data(candles).enter().append("rect")
      .attr("class", "body")
      .attr("x", function(d){ return x(d.m) - 2.8; })
      .attr("width", 5.6)
      .attr("y", function(d){ return yP(Math.max(d.o, d.c)); })
      .attr("height", function(d){ return Math.max(0.8, Math.abs(yP(d.o) - yP(d.c))); })
      .attr("fill", function(d){ return d.c >= d.o ? "#3fcf3f" : "#e85c5c"; })
      .attr("stroke", wickColor).attr("stroke-width", 0.9);

    //chikou: closes shifted back 26 periods
    var chikou = candles.map(function(d){ return [d.m - 26, d.c]; });
    drawLine(gMain, chikou, yP, "#000000", 2.3);

    //pattern arrows, then labels nudged sideways or stacked when they collide
    var gPat = gMain.append("g");
    var placed = [];
    patternLabels.forEach(function(label, i){
      var cx = x(patternMinutes[i]), tip = yP(patternPrices[i]), up = patternBullish[i];
      gPat.append("path").attr("d", arrowPath(cx, tip, 11, 14, up))
        .attr("fill", "#6f6f6f").attr("stroke", "#4d4d4d").attr("stroke-width", 0.6);
    });
    var nudges = [];
    [0, 1, 2, 3, 4, 5, 6].forEach(function(k){
      [0, -16, 16, -30, 30].forEach(function(dx){ nudges.push([dx, k]); });
    });
    patternLabels.forEach(function(label, i){
      var cx = x(patternMinutes[i]), tip = yP(patternPrices[i]), up = patternBullish[i];
      var y0 = up ? tip + 21 : tip - 10;
      var t = gPat.append("text")
        .attr("x", cx).attr("y", y0)
        .attr("text-anchor", "middle").attr("font-size", 10.5)
        .attr("fill", "#7c7c7c")
        .text(label);
      var bb = t.node().getBBox();
      for (var n = 0; n < nudges.length; n++) {
        t.attr("x", cx + nudges[n][0]).attr("y", y0 + (up ? 10 : -10) * nudges[n][1]);
        bb = t.node().getBBox();
        if (!boxesHit(bb, placed)) break;
      }
      placed.push(bb);
    });

    //stochastic signals
    var gSig = gMain.append("g");
    signalKinds.forEach(function(kind, i){
      var cx = x(signalMinutes[i]), cy = yP(signalPrices[i]);
      if (kind === "up") {
        gSig.append("path").attr("d", arrowPath(cx, cy, 11, 13, true))
          .attr("fill", "#35c935").attr("stroke", "#1d8a1d").attr("stroke-width", 0.7);
      } else if (kind === "down") {
        gSig.append("path").attr("d", arrowPath(cx, cy, 11, 13, false))
          .attr("fill", "#e85050").attr("stroke", "#b02a2a").attr("stroke-width", 0.7);
      } else if (kind === "square" || kind === "gsquare") {
        gSig.append("rect").attr("x", cx - 5).attr("y", cy - 5).attr("width", 10).attr("height", 10)
          .attr("fill", kind === "square" ? "#e85555" : "#3cc83c")
          .attr("stroke", kind === "square" ? "#c03a3a" : "#27a027").attr("stroke-width", 0.7);
      } else if (kind === "cross") {
        gSig.append("path").attr("d", "M" + (cx - 5) + "," + (cy - 4) + "L" + (cx + 5) + "," + (cy + 4) +
            "M" + (cx - 5) + "," + (cy + 4) + "L" + (cx + 5) + "," + (cy - 4))
          .attr("stroke", "#e84a4a").attr("stroke-width", 3.2).attr("stroke-linecap", "round");
      } else if (kind === "pair") {
        gSig.append("path").attr("d", arrowPath(cx - 3.5, cy, 7, 9, false))
          .attr("fill", "#e85050").attr("stroke", "#b02a2a").attr("stroke-width", 0.5);
        gSig.append("path").attr("d", arrowPath(cx + 3.5, cy - 9, 7, 9, true))
          .attr("fill", "#35c935").attr("stroke", "#1d8a1d").attr("stroke-width", 0.5);
        gSig.append("text").attr("x", cx).attr("y", cy + 12)
          .attr("text-anchor", "middle").attr("font-size", 11).attr("fill", "#111")
          .text(signalCounts[i]);
      }
    });

    //level labels
    levelNames.forEach(function(name, i){
      var yy = Math.round(yP(levelValues[i])) + 0.5;
      var t = svg.append("text").attr("x", 3).attr("y", yy - 4)
        .attr("font-size", 11.5).attr("fill", "#000").text(name);
      var w = t.node().getComputedTextLength();
      svg.insert("rect", function(){ return t.node(); })
        .attr("x", 0.5).attr("y", yy - 16).attr("width", w + 6).attr("height", 16)
        .attr("fill", "#ffffff").attr("stroke", "#000").attr("stroke-width", 1);
    });

    //watermark and copyright
    svg.append("text").attr("x", 1863).attr("y", 497).attr("text-anchor", "end")
      .attr("font-size", 22).attr("fill", "#d2d9ea").text("DXMXXXX, 1m");
    svg.append("text").attr("x", 2).attr("y", 509).attr("font-size", 11.5).attr("fill", "#000")
      .text("© ProRealTime Trading  Historique ajusté aux rollovers");

    // ---------------- volume panel ----------------
    var gVol = svg.append("g").attr("clip-path", "url(#clip-vol)");
    gVol.selectAll(".vbar").data(candles).enter().append("rect")
      .attr("class", "vbar")
      .attr("x", function(d){ return x(d.m) - 2.8; })
      .attr("width", 5.6)
      .attr("y", function(d){ return yV(d.v); })
      .attr("height", function(d){ return yV(0) - yV(d.v); })
      .attr("fill", function(d){ return d.c >= d.o ? "#3fcf3f" : "#e05a5a"; })
      .attr("stroke", function(d){ return d.c >= d.o ? "#1f7a1f" : "#8a2a2a"; })
      .attr("stroke-width", 0.7);

    // ---------------- stochastic panel ----------------
    var gSto = svg.append("g").attr("clip-path", "url(#clip-sto)");
    var sK = grid(stochK), sD = grid(stochD);
    splitFill(gSto, sK, sD, yS, panel.sto[0], panel.sto[1], "#bff0f0", "#ffc8c8", "stofill");
    [80, 20].forEach(function(v){
      gSto.append("line").attr("x1", 0).attr("x2", axisX).attr("y1", yS(v)).attr("y2", yS(v))
        .attr("stroke", "#3535e8").attr("stroke-width", 2.6);
    });
    drawLine(gSto, sD, yS, "#ff2a2a", 1.1, "3,2");
    drawLine(gSto, sK, yS, "#111111", 1.1);

    // ---------------- STO MTF panel ----------------
    var gMtf = svg.append("g").attr("clip-path", "url(#clip-mtf)");
    var mK = grid(mtfK), mD = grid(mtfD);
    splitFill(gMtf, mK, mD, yM, panel.mtf[0], panel.mtf[1], "#c9f3f3", "#ffcfcf", "mtffill");
    [80, 20].forEach(function(v){
      gMtf.append("line").attr("x1", 0).attr("x2", axisX).attr("y1", yM(v)).attr("y2", yM(v))
        .attr("stroke", "#0000ff").attr("stroke-width", 2.6);
    });
    drawLine(gMtf, mtfRedSlow, yM, "#ff3030", 1.2, "4,3");
    drawLine(gMtf, mtfGreenSlow, yM, "#2a962a", 1.2, "4,3");
    drawLine(gMtf, mtfBlueSlow, yM, "#6a9fd2", 1.2, "4,3");
    drawLine(gMtf, mD, yM, "#111111", 1, "4,3");
    drawLine(gMtf, mK, yM, "#111111", 1);
    drawLine(gMtf, mtfBlue, yM, "#4a86bd", 2.6);
    drawLine(gMtf, mtfGreen, yM, "#148a14", 2.6);
    drawLine(gMtf, mtfRed, yM, "#ff1414", 2.6);

    // ---------------- frame ----------------
    var frame = "#7e909e";
    [panel.vol[0], panel.sto[0], panel.mtf[0], panel.mtf[1]].forEach(function(yy){
      svg.append("line").attr("x1", 0).attr("x2", axisX).attr("y1", yy + 0.5).attr("y2", yy + 0.5)
        .attr("stroke", frame).attr("stroke-width", 1.4);
    });
    svg.append("line").attr("x1", axisX + 0.5).attr("x2", axisX + 0.5).attr("y1", 21).attr("y2", H)
      .attr("stroke", frame).attr("stroke-width", 1.4);
    svg.append("line").attr("x1", 0.5).attr("x2", 0.5).attr("y1", 21).attr("y2", panel.mtf[1])
      .attr("stroke", frame).attr("stroke-width", 1);

    // ---------------- header ----------------
    var hdr = defs.append("linearGradient").attr("id", "hdr").attr("x1", 0).attr("y1", 0).attr("x2", 0).attr("y2", 1);
    hdr.append("stop").attr("offset", "0%").attr("stop-color", "#d4e5ec");
    hdr.append("stop").attr("offset", "100%").attr("stop-color", "#a7c4d0");
    svg.append("rect").attr("width", W).attr("height", 21).attr("fill", "url(#hdr)");
    svg.append("line").attr("x1", 0).attr("x2", W).attr("y1", 20.5).attr("y2", 20.5).attr("stroke", "#7c96a3");
    svg.append("rect").attr("x", 3).attr("y", 9).attr("width", 5).attr("height", 8).attr("fill", "#777").attr("stroke", "#333").attr("stroke-width", 0.7);
    svg.append("line").attr("x1", 5.5).attr("x2", 5.5).attr("y1", 6).attr("y2", 19).attr("stroke", "#333");
    svg.append("rect").attr("x", 11).attr("y", 5).attr("width", 5).attr("height", 10).attr("fill", "#66dd22").attr("stroke", "#2a6a10").attr("stroke-width", 0.7);
    svg.append("line").attr("x1", 13.5).attr("x2", 13.5).attr("y1", 2).attr("y2", 18).attr("stroke", "#2a6a10");
    svg.append("text").attr("x", 24).attr("y", 15).attr("font-size", 12).attr("font-weight", "bold").attr("fill", "#111")
      .text("Mini DAX Full0621 1 minute 15 362 (+1,20 %) 14 mai 2021 15:54:32");
    svg.append("text").attr("x", 1916).attr("y", 15).attr("text-anchor", "end")
      .attr("font-size", 12).attr("font-weight", "bold").attr("fill", "#111")
      .text("Trading.ProRealTime.com");

    //legend tags
    function tag(xx, yy, label, colors){
      var g = svg.append("g");
      var t = g.append("text").attr("x", xx + 14).attr("y", yy + 11.5).attr("font-size", 12).attr("fill", "#111").text(label);
      var w = t.node().getComputedTextLength();
      g.insert("rect", function(){ return t.node(); })
        .attr("x", xx + 0.5).attr("y", yy + 0.5).attr("width", w + 18).attr("height", 15)
        .attr("fill", "#e1e4e8").attr("stroke", "#a3a9b0");
      var sw = 9 / colors.length;
      colors.forEach(function(c, i){
        g.append("rect").attr("x", xx + 3 + i * sw).attr("y", yy + 2.5).attr("width", sw).attr("height", 11).attr("fill", c);
      });
      return xx + w + 19;
    }
    var lx = 2;
    lx = tag(lx, 21, "Prix", ["#3fcf3f", "#e85c5c"]);
    lx = tag(lx, 21, "Ichimoku (9 26 52)", ["#111", "#d08000", "#e02020", "#2040e0", "#20c0f0"]);
    lx = tag(lx, 21, "Bollinger (20 2)", ["#c8c8c8"]);
    lx = tag(lx, 21, "Clôture (J)", ["#3030e0"]);
    lx = tag(lx, 21, "Chandeliers & Stochastiques (14 5 80 20 128 128 128 t t t)", ["#000"]);
    tag(2, panel.vol[0] + 1, "Volume", ["#3fcf3f", "#e05a5a"]);
    tag(2, panel.sto[0] + 2, "Stochastique (14 3 5)", ["#e02020", "#111"]);
    tag(2, panel.mtf[0] + 2, "Indicateur STO MTF (6 3 3)", ["#000"]);

    // ---------------- right axes ----------------
    function rightAxis(ys, ticks, fmt, bold){
      var g = svg.append("g").attr("transform", "translate(" + axisX + ",0)")
        .call(d3.axisRight(ys).tickValues(ticks).tickSize(5).tickPadding(2).tickFormat(fmt));
      g.select(".domain").remove();
      g.selectAll(".tick line").attr("stroke", "#444");
      g.selectAll(".tick text").attr("font-size", 11).attr("fill", "#111")
        .attr("font-family", "Liberation Sans, Arial, sans-serif")
        .attr("font-weight", function(d){ return bold.indexOf(d) >= 0 ? "bold" : "normal"; });
      return g;
    }
    var axMain = rightAxis(yP, priceTicks, fmtPrice, [15300, 15350]);
    var axVol = rightAxis(yV, volumeTicks, d3.format("d"), []);
    var axSto = rightAxis(yS, stochTicks, function(d){ return d % 20 === 0 ? d : ""; }, []);
    var axMtf = rightAxis(yM, mtfTicks, d3.format("d"), [50, 100]);

    //last value boxes, pushed apart when they overlap
    function valueBoxes(items, gap, axisG, ys){
      var free = items.filter(function(d){ return !d.under; });
      free.forEach(function(d){ d.y = d.raw; });
      free.sort(function(a, b){ return a.raw - b.raw; });
      for (var it = 0; it < 80; it++) {
        for (var i = 1; i < free.length; i++) {
          var dy = free[i].y - free[i - 1].y;
          if (dy < gap) { var s = (gap - dy) / 2; free[i].y += s; free[i - 1].y -= s; }
        }
      }
      items.forEach(function(d){ if (d.under) d.y = d.raw; });
      //hide tick labels covered by a box
      axisG.selectAll(".tick").each(function(v){
        var ty = ys(v);
        var hit = items.some(function(d){ return Math.abs(d.y - ty) < 11; });
        if (hit) d3.select(this).select("text").style("display", "none");
      });
      var order = items.filter(function(d){ return d.under; }).concat(items.filter(function(d){ return !d.under; }));
      order.forEach(function(d){
        svg.append("line").attr("x1", axisX).attr("x2", axisX + 5).attr("y1", d.raw).attr("y2", d.raw)
          .attr("stroke", d.color).attr("stroke-width", 1);
        var g = svg.append("g");
        var t = g.append("text").attr("x", axisX + 7).attr("y", d.y + 4)
          .attr("font-size", 11).attr("fill", d.color).text(d.label);
        var w = t.node().getComputedTextLength();
        g.insert("rect", function(){ return t.node(); })
          .attr("x", axisX + 5.5).attr("y", d.y - 6.5).attr("width", w + 4).attr("height", 13)
          .attr("fill", d.fill || "#f3f3f3").attr("stroke", "#8c8c8c").attr("stroke-width", 1);
      });
    }
    var lastOf = function(s){ return s[s.length - 1][1]; };
    valueBoxes([
      { raw: yP(lastClose), label: fmtPrice(lastClose), color: "#000", fill: "#ffc400" },
      { raw: yP(lastClose), label: fmtPrice(lastClose), color: "#3535d0" },
      { raw: yP(lastOf(bbUpper)), label: fmtPrice(Math.floor(lastOf(bbUpper))), color: "#a9a9a9" },
      { raw: yP(lastOf(tenkan)), label: fmtPrice(lastOf(tenkan)), color: "#ff2a2a" },
      { raw: yP(lastOf(senkouA)), label: fmtPrice(lastOf(senkouA)), color: "#9c9c00" },
      { raw: yP(lastOf(kijun)), label: fmtPrice(lastOf(kijun)), color: "#12b4ec" },
      { raw: yP(lastOf(bbMiddle)), label: fmtPrice(lastOf(bbMiddle)), color: "#a9a9a9", under: true },
      { raw: yP(lastOf(senkouB)), label: fmtPrice(lastOf(senkouB)), color: "#3412c0" },
      { raw: yP(lastOf(bbLower)), label: fmtPrice(lastOf(bbLower)), color: "#a9a9a9" }
    ], 14.5, axMain, yP);
    valueBoxes([
      { raw: yV(candleVolume[candleVolume.length - 1]), label: String(candleVolume[candleVolume.length - 1]), color: "#35b835" }
    ], 14, axVol, yV);
    valueBoxes([
      { raw: yS(stochK[stochK.length - 1]), label: fmtOsc(stochK[stochK.length - 1]), color: "#111" },
      { raw: yS(stochD[stochD.length - 1]), label: fmtOsc(stochD[stochD.length - 1]), color: "#ff1a1a" }
    ], 14, axSto, yS);
    valueBoxes([
      { raw: yM(mtfK[mtfK.length - 1]), label: fmtOsc(mtfK[mtfK.length - 1]), color: "#111" },
      { raw: yM(lastOf(mtfGreen)), label: fmtOsc(lastOf(mtfGreen)), color: "#148a14" },
      { raw: yM(lastOf(mtfRed)), label: fmtOsc(lastOf(mtfRed)), color: "#ff1414" },
      { raw: yM(lastOf(mtfBlue)), label: fmtOsc(lastOf(mtfBlue)), color: "#4a86bd" }
    ], 13.5, axMtf, yM);

    // ---------------- time axis ----------------
    var tickMinutes = timeLabels.map(function(s){
      var p = s.split(":");
      return (+p[0] - 13) * 60 + (+p[1]);
    });
    var axT = svg.append("g").attr("class", "narrow")
      .attr("transform", "translate(0," + panel.mtf[1] + ")")
      .call(d3.axisBottom(x).tickValues(tickMinutes).tickSize(4).tickPadding(3)
        .tickFormat(function(d, i){ return timeLabels[i]; }));
    axT.select(".domain").remove();
    axT.selectAll(".tick line").attr("stroke", "#444");
    axT.selectAll(".tick text").attr("font-size", 12).attr("fill", "#111")
      .attr("font-weight", function(d, i){ return /:00$/.test(timeLabels[i]) ? "bold" : "normal"; });
  }

})();
</script>
</body>
</html>
